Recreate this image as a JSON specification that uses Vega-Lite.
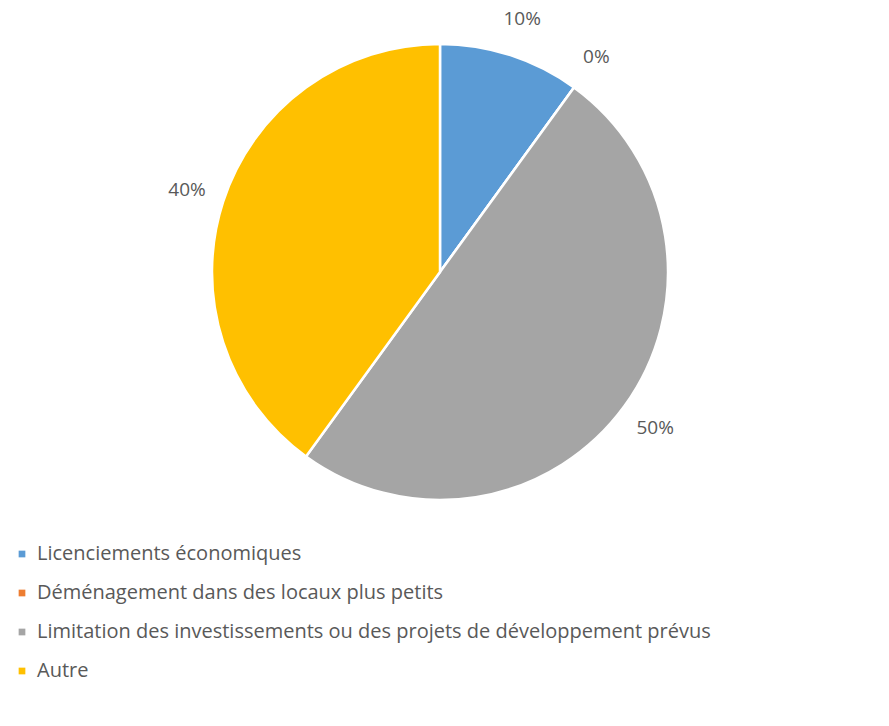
{
  "$schema": "https://vega.github.io/schema/vega-lite/v6.json",
  "width": 880,
  "height": 544,
  "padding": {"left": 0, "top": 0, "right": 0, "bottom": 30},
  "autosize": {"type": "pad"},
  "background": "white",
  "config": {"view": {"stroke": null}, "font": "Open Sans"},
  "data": {
    "values": [
      {"cat": "Licenciements économiques", "value": 10, "label": "10%", "order": 1},
      {"cat": "Déménagement dans des locaux plus petits", "value": 0, "label": "0%", "order": 2},
      {"cat": "Limitation des investissements ou des projets de développement prévus", "value": 50, "label": "50%", "order": 3},
      {"cat": "Autre", "value": 40, "label": "40%", "order": 4}
    ]
  },
  "encoding": {
    "theta": {"field": "value", "type": "quantitative", "stack": true},
    "order": {"field": "order", "type": "quantitative"},
    "color": {
      "field": "cat",
      "type": "nominal",
      "sort": null,
      "scale": {
        "domain": ["Licenciements économiques", "Déménagement dans des locaux plus petits", "Limitation des investissements ou des projets de développement prévus", "Autre"],
        "range": ["#5B9BD5", "#ED7D31", "#A5A5A5", "#FFC000"]
      },
      "legend": {
        "title": null,
        "orient": "none",
        "legendX": 12,
        "legendY": 544,
        "direction": "vertical",
        "symbolType": "square",
        "symbolSize": 45,
        "symbolStrokeWidth": 0,
        "labelFont": "Open Sans",
        "labelFontSize": 20,
        "labelColor": "#595959",
        "labelLimit": 900,
        "rowPadding": 19,
        "labelOffset": 5
      }
    }
  },
  "layer": [
    {
      "mark": {"type": "arc", "outerRadius": 228, "stroke": "white", "strokeWidth": 2.5}
    },
    {
      "mark": {"type": "text", "radius": 266, "font": "Open Sans", "fontSize": 19, "color": "#595959"},
      "encoding": {
        "text": {"field": "label"},
        "color": {"value": "#595959"}
      }
    }
  ]
}
